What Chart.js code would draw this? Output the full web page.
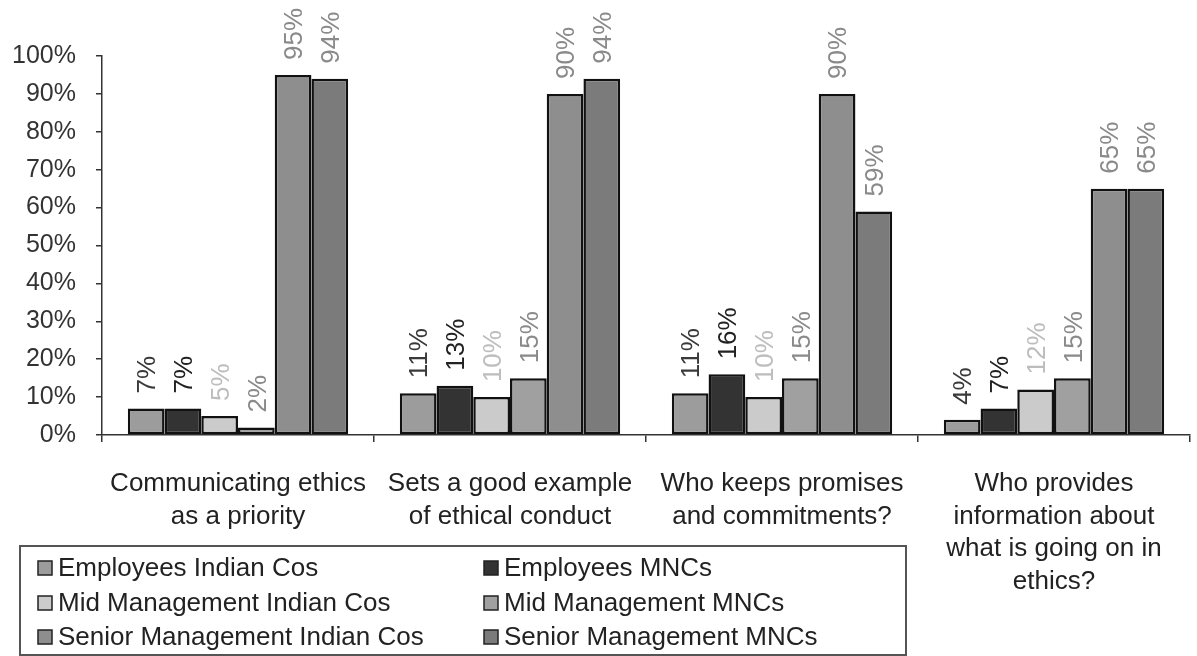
<!DOCTYPE html>
<html>
<head>
<meta charset="utf-8">
<script src="https://cdn.jsdelivr.net/npm/chart.js@4/dist/chart.umd.min.js"></script>
<style>
  html, body { margin: 0; padding: 0; background: #ffffff; }
  #wrap { position: relative; width: 1197px; height: 656px; }
</style>
</head>
<body>
<div id="wrap"><canvas id="chart"></canvas></div>
<script>
// Survey questions (x categories), one line per array entry
const categories = [
  ['Communicating ethics', 'as a priority'],
  ['Sets a good example', 'of ethical conduct'],
  ['Who keeps promises', 'and commitments?'],
  ['Who provides', 'information about', 'what is going on in', 'ethics?']
];

// Share of respondents per group, in percent
const employeesIndianCos   = [7, 11, 11, 4];
const employeesMNCs        = [7, 13, 16, 7];
const midMgmtIndianCos     = [5, 10, 10, 12];
const midMgmtMNCs          = [2, 15, 15, 15];
const seniorMgmtIndianCos  = [95, 90, 90, 65];
const seniorMgmtMNCs       = [94, 94, 59, 65];

const seriesNames = [
  'Employees Indian Cos', 'Employees MNCs',
  'Mid Management Indian Cos', 'Mid Management MNCs',
  'Senior Management Indian Cos', 'Senior Management MNCs'
];
const seriesValues = [employeesIndianCos, employeesMNCs, midMgmtIndianCos,
                      midMgmtMNCs, seniorMgmtIndianCos, seniorMgmtMNCs];

// Y axis ticks
const yTicks = [0, 10, 20, 30, 40, 50, 60, 70, 80, 90, 100];

const fills      = ['#9c9c9c', '#333333', '#cbcbcb', '#a0a0a0', '#8e8e8e', '#7b7b7b'];
const labelInk   = ['#3a3a3a', '#222222', '#bdbdbd', '#8a8a8a', '#8a8a8a', '#8a8a8a'];

const FONT = '"Liberation Sans", Arial, sans-serif';

// Rotated value labels above each bar
const valueLabels = {
  id: 'valueLabels',
  afterDatasetsDraw(chart) {
    const ctx = chart.ctx;
    ctx.save();
    ctx.font = '26px ' + FONT;
    ctx.textAlign = 'left';
    ctx.textBaseline = 'middle';
    chart.data.datasets.forEach((ds, i) => {
      const meta = chart.getDatasetMeta(i);
      meta.data.forEach((bar, j) => {
        ctx.save();
        ctx.translate(bar.x + 2, bar.y - 15);
        ctx.rotate(-Math.PI / 2);
        ctx.fillStyle = labelInk[i];
        ctx.fillText(ds.data[j] + '%', 0, 0);
        ctx.restore();
      });
    });
    ctx.restore();
  }
};

// Boxed two-column legend under the first three categories
const boxLegend = {
  id: 'boxLegend',
  afterDraw(chart) {
    const ctx = chart.ctx;
    const left = 20, top = 546, right = 906, bottom = 655;
    ctx.save();
    ctx.strokeStyle = '#555555';
    ctx.lineWidth = 2;
    ctx.strokeRect(left, top, right - left, bottom - top);
    ctx.font = '26px ' + FONT;
    ctx.textAlign = 'left';
    ctx.textBaseline = 'middle';
    const rowY = [568, 603, 637];
    const colX = [38, 484];
    chart.data.datasets.forEach((ds, i) => {
      const x = colX[i % 2];
      const y = rowY[Math.floor(i / 2)];
      ctx.fillStyle = ds.backgroundColor;
      ctx.fillRect(x, y - 7, 14, 14);
      ctx.strokeStyle = '#222222';
      ctx.lineWidth = 1.5;
      ctx.strokeRect(x, y - 7, 14, 14);
      ctx.fillStyle = '#222222';
      ctx.fillText(ds.label, x + 20, y + 1);
    });
    ctx.restore();
  }
};

new Chart(document.getElementById('chart'), {
  type: 'bar',
  data: {
    labels: categories,
    datasets: seriesNames.map((name, i) => ({
      label: name,
      data: seriesValues[i],
      backgroundColor: fills[i],
      borderColor: '#111111',
      borderWidth: 2.5,
      borderSkipped: false,
      barPercentage: 1.0,
      categoryPercentage: 0.81
    }))
  },
  options: {
    responsive: true,
    maintainAspectRatio: false,
    animation: false,
    layout: { padding: { left: 11, top: 56, right: 7, bottom: 32 } },
    plugins: {
      legend: { display: false },
      tooltip: { enabled: false }
    },
    scales: {
      x: {
        grid: {
          offset: true,
          drawOnChartArea: false,
          drawTicks: true,
          tickLength: 7,
          color: '#333333',
          lineWidth: 1.5
        },
        border: { color: '#333333', width: 1.5 },
        ticks: {
          color: '#222222',
          padding: 26,
          maxRotation: 0,
          autoSkip: false,
          font: { family: FONT, size: 26, lineHeight: 1.25 }
        }
      },
      y: {
        min: 0,
        max: 100,
        afterBuildTicks(axis) { axis.ticks = yTicks.map(v => ({ value: v })); },
        afterFit(axis) { axis.width = 91; },
        grid: {
          drawOnChartArea: false,
          drawTicks: true,
          tickLength: 6,
          color: '#333333',
          lineWidth: 1.5
        },
        border: { color: '#333333', width: 1.5 },
        ticks: {
          color: '#333333',
          padding: 20,
          font: { family: FONT, size: 25 },
          callback: v => v + '%'
        }
      }
    }
  },
  plugins: [valueLabels, boxLegend]
});
</script>
</body>
</html>
